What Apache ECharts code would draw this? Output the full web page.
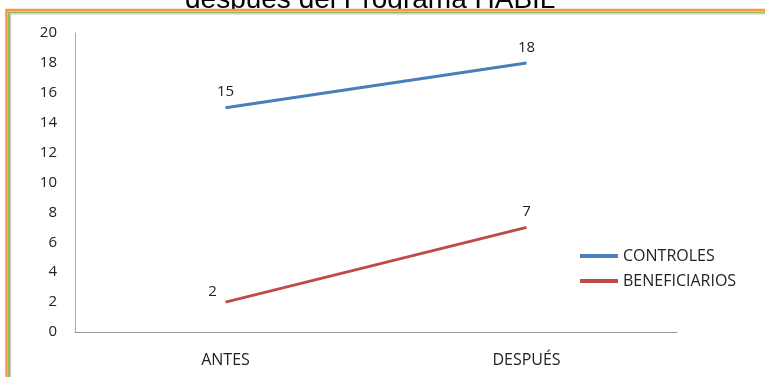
<!DOCTYPE html>
<html><head><meta charset="utf-8">
<script src="https://cdn.jsdelivr.net/npm/echarts@6/dist/echarts.min.js"></script>
<style>html,body{margin:0;padding:0;background:#fff}#c{width:765px;height:377px}</style>
</head><body><div id="c"></div>
<script>
var categories = ['ANTES', 'DESPUÉS'];
var controles = [15, 18];
var beneficiarios = [2, 7];
var seriesNames = ['CONTROLES', 'BENEFICIARIOS'];
var titleText = 'después del Programa HABIL';

var chart = echarts.init(document.getElementById('c'));
var font = '"Open Sans", "Liberation Sans", sans-serif';
var labelStyle = {show: true, position: 'top', distance: 8, fontFamily: font, fontSize: 15, color: '#222'};
chart.setOption({
  animation: false,
  backgroundColor: '#fff',
  title: {
    text: titleText, left: 180, top: -19, z: 0,
    textStyle: {fontFamily: '"Liberation Sans", Arial, sans-serif', fontSize: 28, fontWeight: 'normal', color: '#000'}
  },
  graphic: [
    {type: 'rect', shape: {x: 7, y: 9, width: 800, height: 400}, style: {fill: '#fff'}, z: 1},
    {type: 'rect', shape: {x: 6.5, y: 10, width: 800, height: 400}, style: {fill: 'none', stroke: '#F79646', lineWidth: 2.5}, z: 10},
    {type: 'rect', shape: {x: 9, y: 12.5, width: 800, height: 400}, style: {fill: 'none', stroke: '#9BBB59', lineWidth: 2}, z: 10},
    {type: 'rect', shape: {x: 10.5, y: 14, width: 800, height: 400}, style: {fill: 'none', stroke: '#c8c8c8', lineWidth: 1}, z: 10}
  ],
  grid: {left: 75, top: 33, width: 602, height: 299, containLabel: false, z: 3},
  legend: {
    orient: 'vertical', left: 575, top: 243, itemWidth: 38, itemHeight: 4, itemGap: 9,
    icon: 'rect', z: 5,
    textStyle: {fontFamily: font, fontSize: 16, color: '#222'},
    data: [
      {name: seriesNames[0], itemStyle: {color: '#4A7EBB'}},
      {name: seriesNames[1], itemStyle: {color: '#BE4B48'}}
    ]
  },
  xAxis: {
    type: 'category', data: categories, boundaryGap: true, z: 5,
    axisLine: {lineStyle: {color: '#999', width: 1}},
    axisTick: {show: false},
    axisLabel: {fontFamily: font, fontSize: 16, color: '#222', margin: 20}
  },
  yAxis: {
    type: 'value', min: 0, max: 20, interval: 2, z: 5,
    axisLine: {show: true, lineStyle: {color: '#aaa', width: 1}},
    axisTick: {show: false},
    splitLine: {show: false},
    axisLabel: {fontFamily: font, fontSize: 15, color: '#222', margin: 18}
  },
  series: [
    {name: seriesNames[0], type: 'line', data: controles, z: 5,
     symbol: 'circle', symbolSize: 0.1, showSymbol: true, color: '#4A7EBB',
     itemStyle: {color: '#4A7EBB'},
     lineStyle: {width: 3, color: '#4A7EBB'},
     label: labelStyle},
    {name: seriesNames[1], type: 'line', z: 5,
     data: [{value: beneficiarios[0], label: {offset: [-13, 5]}}, beneficiarios[1]],
     symbol: 'circle', symbolSize: 0.1, showSymbol: true, color: '#BE4B48',
     itemStyle: {color: '#BE4B48'},
     lineStyle: {width: 3, color: '#BE4B48'},
     label: labelStyle}
  ]
});
</script></body></html>
